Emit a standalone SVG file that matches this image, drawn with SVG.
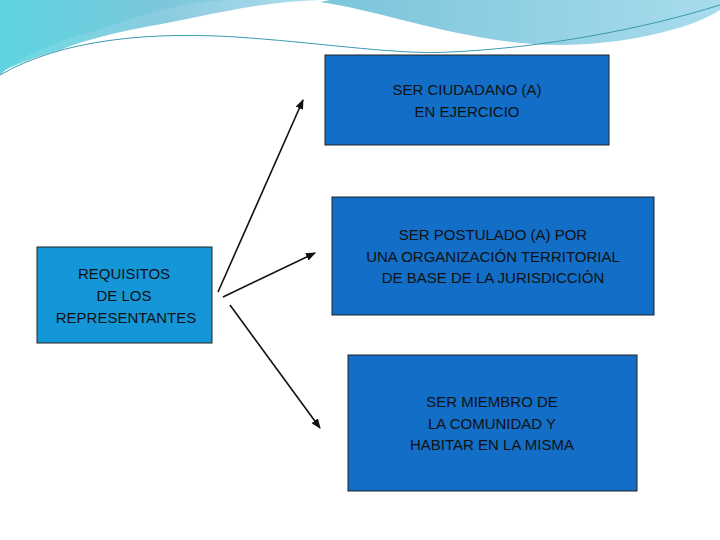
<svg xmlns="http://www.w3.org/2000/svg" width="720" height="540" viewBox="0 0 720 540">
<style>
.t{font-family:"Liberation Sans",Arial,sans-serif;font-size:15px;fill:#111;text-anchor:middle}
.b{fill:#126ec6;stroke:#222;stroke-width:1}
.c{stroke:#111;stroke-width:1.6;fill:none;marker-end:url(#a)}
</style>
<defs>
<marker id="a" markerWidth="10" markerHeight="8" refX="9" refY="4" orient="auto" markerUnits="userSpaceOnUse"><path d="M0,0 L10,4 L0,8 z" fill="#111"/></marker>
<linearGradient id="g1" x1="0" y1="0" x2="1" y2="0"><stop offset="0" stop-color="#5ad6e0"/><stop offset="0.5" stop-color="#7fc6dc"/><stop offset="1" stop-color="#a8dcec"/></linearGradient>
</defs>
<rect width="720" height="540" fill="#fff"/>
<path d="M0,0 H720 V10 C690,30 620,45 560,45 C470,45 380,10 320,2 L330,0 Z" fill="url(#g1)"/>
<path d="M0,0 H240 C170,0 120,25 80,35 C40,48 15,60 0,75 Z" fill="#6cc8dc"/>
<path d="M0,0 H330 C260,0 200,18 150,26 C120,32 90,38 60,50 C30,58 10,68 0,72 Z" fill="url(#g1)" opacity="0.9"/>
<path d="M0,75 C60,40 150,30 250,38 C330,44 400,55 450,52 C540,48 640,30 720,5" stroke="#3a9ab0" stroke-width="1" fill="none"/>
<g id="n1"><rect class="b" x="325" y="55" width="284" height="90"/><text class="t" x="467" y="95">SER CIUDADANO (A)</text><text class="t" x="467" y="117">EN EJERCICIO</text></g>
<g id="n2"><rect class="b" x="332" y="197" width="322" height="118"/><text class="t" x="493" y="240">SER POSTULADO (A) POR</text><text class="t" x="493" y="262">UNA ORGANIZACIÓN TERRITORIAL</text><text class="t" x="493" y="283">DE BASE DE LA JURISDICCIÓN</text></g>
<g id="n3"><rect class="b" x="348" y="355" width="289" height="136"/><text class="t" x="492" y="407">SER MIEMBRO DE</text><text class="t" x="492" y="429">LA COMUNIDAD Y</text><text class="t" x="492" y="450">HABITAR EN LA MISMA</text></g>
<g id="n0"><rect x="37" y="247" width="175" height="96" fill="#1496d8" stroke="#222"/><text class="t" x="124" y="279">REQUISITOS</text><text class="t" x="124" y="301">DE LOS</text><text class="t" x="126" y="323">REPRESENTANTES</text></g>
<g id="connectors">
<path class="c" d="M218,292 L303,100"/>
<path class="c" d="M223,297 L315,253"/>
<path class="c" d="M230,305 L320,428"/>
</g>
</svg>
